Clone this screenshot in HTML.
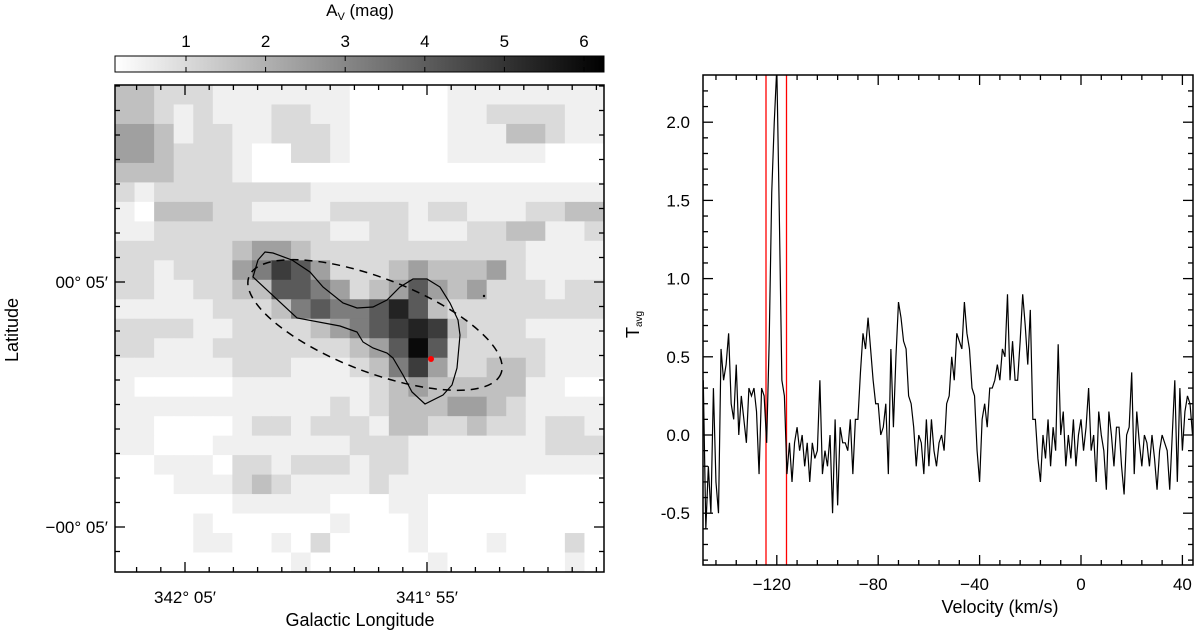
<!DOCTYPE html>
<html><head><meta charset="utf-8"><style>
html,body{margin:0;padding:0;background:#fff;}
svg{display:block;font-family:"Liberation Sans",sans-serif;}
</style></head><body>
<svg id="fig" width="1200" height="633" viewBox="0 0 1200 633">
<defs>
<linearGradient id="cbg" x1="0" x2="1" y1="0" y2="0"><stop offset="0" stop-color="#fff"/><stop offset="1" stop-color="#000"/></linearGradient>
<clipPath id="specclip"><rect x="703" y="75" width="490" height="490"/></clipPath>
</defs>
<g id="mapcells"></g>
<g id="mapticks"></g>
<rect x="115" y="85" width="489" height="487" fill="none" stroke="#000" stroke-width="1.5"/>
<path d="M265,252 L273,253 L292,260 L310,272 L323,287 L343,303 L357,308 L373,307 L387,300 L400,287 L413,279 L427,279 L440,287 L450,303 L458,320 L460,335 L457,368 L452,385 L443,395 L425,404 L412,392 L403,375 L393,358 L387,353 L373,348 L363,342 L357,332 L340,326 L297,318 L253,277 L258,260 Z" fill="none" stroke="#000" stroke-width="1.2"/>
<ellipse cx="375" cy="325" rx="135" ry="47" transform="rotate(21 375 325)" fill="none" stroke="#000" stroke-width="1.5" stroke-dasharray="8,6"/>
<circle cx="431" cy="359" r="3" fill="#f00"/>
<circle cx="484" cy="296" r="1.2" fill="#000"/>
<rect x="115" y="56" width="489" height="16" fill="url(#cbg)" stroke="#000" stroke-width="1"/>
<g id="cbticks"></g>
<text x="360" y="16" text-anchor="middle" font-size="17">A<tspan font-size="11" dy="4">V</tspan><tspan dy="-4"> (mag)</tspan></text>
<text x="108" y="288" text-anchor="end" font-size="17">00° 05′</text>
<text x="108" y="533" text-anchor="end" font-size="17">−00° 05′</text>
<text x="185" y="603" text-anchor="middle" font-size="17">342° 05′</text>
<text x="427" y="603" text-anchor="middle" font-size="17">341° 55′</text>
<text x="360" y="626" text-anchor="middle" font-size="18">Galactic Longitude</text>
<text x="18" y="330" text-anchor="middle" font-size="18" transform="rotate(-90 18 330)">Latitude</text>

<g id="specaxes"></g>
<line x1="766" y1="75" x2="766" y2="565" stroke="#f00" stroke-width="1.3"/>
<line x1="786.5" y1="75" x2="786.5" y2="565" stroke="#f00" stroke-width="1.3"/>
<path id="specline" fill="none" stroke="#000" stroke-width="1.2" clip-path="url(#specclip)"/>
<rect x="703" y="75" width="490" height="490" fill="none" stroke="#000" stroke-width="1.5"/>
<text x="1000" y="613" text-anchor="middle" font-size="18">Velocity (km/s)</text>
<text x="639" y="338" font-size="18" transform="rotate(-90 639 338)">T<tspan font-size="10" dy="3">avg</tspan></text>
</svg>
<script>
const mapRows = [
"3322211111110000011111111",
"3321211122110000011222211",
"4431221122210000011133211",
"4432221002210000011111000",
"3332221000000000000000000",
"2122222222111111111111111",
"1033322111122221221112233",
"1122222222211221112233112",
"2222223443222222222221111",
"2212224576422234333421111",
"2211223366542346434222122",
"1111122235655686322222222",
"2222112222345678732221111",
"2211122222223469622222111",
"1111112221112357422332111",
"1000001111111234333331100",
"1111111111121233344321111",
"1100001221222133223221221",
"1100011111112221111111222",
"0011102212221221111111111",
"0001112321111211111110000",
"0000001111100011000000000",
"0000100000010001000000000",
"0000110010200001000100020",
"0000000001000000100000010"
];
const grayLevels = [255,240,218,192,160,125,90,60,35,10];
const cbTicks = [1,2,3,4,5,6];
const velStart = -149;
const specVals = [0.35,-0.6,-0.2,-0.5,0.3,-0.3,-0.5,0.55,0.35,0.45,0.65,0.2,0.1,0.45,0.0,0.25,0.1,-0.05,0.3,0.25,0.3,0.15,-0.25,0.3,0.25,-0.05,0.6,1.55,2.0,2.35,1.4,0.35,0.25,-0.25,-0.05,-0.3,-0.05,0.05,-0.1,0.0,-0.2,-0.05,-0.3,-0.05,-0.15,-0.1,0.35,-0.25,-0.1,-0.2,0.0,-0.5,0.1,-0.45,0.05,-0.05,-0.05,-0.1,0.1,-0.25,0.1,0.1,0.4,0.65,0.55,0.75,0.55,0.35,0.2,0.2,0.0,0.05,0.2,-0.25,0.55,0.05,0.5,0.85,0.75,0.6,0.55,0.25,0.2,0.05,-0.2,0.0,-0.05,-0.25,0.1,-0.2,0.1,-0.1,-0.2,-0.05,0.0,-0.1,0.2,0.25,0.5,0.35,0.65,0.6,0.55,0.85,0.65,0.55,0.3,0.25,-0.1,-0.3,0.1,0.2,0.05,0.3,0.3,0.35,0.45,0.35,0.55,0.5,0.9,0.35,0.6,0.35,0.35,0.6,0.9,0.7,0.45,0.8,0.1,0.1,-0.15,-0.3,0.0,-0.15,0.1,-0.2,0.05,-0.1,0.58,0.0,0.15,-0.2,0.0,-0.15,0.1,-0.2,0.0,0.1,-0.1,0.05,0.3,-0.1,0.0,-0.3,0.15,0.0,-0.1,-0.35,0.15,0.0,-0.2,0.05,0.05,-0.2,-0.38,0.0,0.05,0.4,-0.25,0.15,-0.05,-0.2,0.0,-0.05,-0.2,0.0,-0.15,-0.35,-0.1,0.0,-0.05,-0.1,-0.35,0.0,0.35,-0.3,0.3,-0.1,0.15,0.25,0.2,0.0];
const yTickLabels = ["-0.5","0.0","0.5","1.0","1.5","2.0"];
const xTickLabels = ["-120","-80","-40","0","40"];

const NS="http://www.w3.org/2000/svg";
function mk(tag, attrs, parent){const e=document.createElementNS(NS,tag);for(const k in attrs)e.setAttribute(k,attrs[k]);parent.appendChild(e);return e;}

const mapG=document.getElementById('mapcells');
const mx0=115,my0=85,mw=489,mh=487;
const nr=mapRows.length,nc=mapRows[0].length;
const cw=mw/nc,ch=mh/nr;
mapRows.forEach((row,r)=>{for(let c=0;c<nc;c++){const d=+row[c];const g=grayLevels[d];
const rc=mk('rect',{x:(mx0+c*cw).toFixed(2),y:(my0+r*ch).toFixed(2),width:(cw+0.5).toFixed(2),height:(ch+0.5).toFixed(2),fill:`rgb(${g},${g},${g})`},mapG);

}});

const tg=document.getElementById('mapticks');
for(let k=-3;k<=17;k++){const x=185+k*24.2;if(x<116||x>603)continue;const L=(k%10===0)?10:5;
mk('line',{x1:x,y1:572,x2:x,y2:572-L,stroke:'#000','stroke-width':1.3},tg);
mk('line',{x1:x,y1:85,x2:x,y2:85+L,stroke:'#000','stroke-width':1.3},tg);}
for(let k=-9;k<=12;k++){const y=282+k*24.5;if(y<86||y>571)continue;const L=(k%10===0)?10:5;
mk('line',{x1:115,y1:y,x2:115+L,y2:y,stroke:'#000','stroke-width':1.3},tg);
mk('line',{x1:604,y1:y,x2:604-L,y2:y,stroke:'#000','stroke-width':1.3},tg);}

const cg=document.getElementById('cbticks');
const cbX=v=>186+(v-1)*79.6;
cbTicks.forEach(v=>{const x=cbX(v);
mk('line',{x1:x,y1:56,x2:x,y2:61,stroke:'#000','stroke-width':1},cg);
mk('line',{x1:x,y1:72,x2:x,y2:67,stroke:'#000','stroke-width':1},cg);
const t=mk('text',{x:x,y:47,'text-anchor':'middle','font-size':17},cg);t.textContent=String(v);

});

const sx=v=>1081+2.535*v;
const sy=t=>435-156.4*t;
const ag=document.getElementById('specaxes');
for(let i=-8;i<=23;i++){const t=i/10;const y=sy(t);if(y<76||y>564)continue;const L=(i%5===0)?10:5;
mk('line',{x1:703,y1:y,x2:703+L,y2:y,stroke:'#000','stroke-width':1.3},ag);
mk('line',{x1:1193,y1:y,x2:1193-L,y2:y,stroke:'#000','stroke-width':1.3},ag);}
yTickLabels.forEach(s=>{const t=mk('text',{x:690,y:sy(+s)+6,'text-anchor':'end','font-size':17},ag);t.textContent=s;

});
for(let v=-144;v<=44;v+=8){const x=sx(v);if(x<704||x>1192)continue;const L=(v%40===0)?10:5;
mk('line',{x1:x,y1:565,x2:x,y2:565-L,stroke:'#000','stroke-width':1.3},ag);
mk('line',{x1:x,y1:75,x2:x,y2:75+L,stroke:'#000','stroke-width':1.3},ag);}
xTickLabels.forEach(s=>{const v=+s;const t=mk('text',{x:sx(v)-(v<0?5:0),y:590,'text-anchor':'middle','font-size':17},ag);t.textContent=s.replace('-','−');

});

let d='';specVals.forEach((t,i)=>{d+=(i?'L':'M')+sx(velStart+i).toFixed(2)+','+sy(t).toFixed(2);});
document.getElementById('specline').setAttribute('d',d);
</script>
</body></html>
